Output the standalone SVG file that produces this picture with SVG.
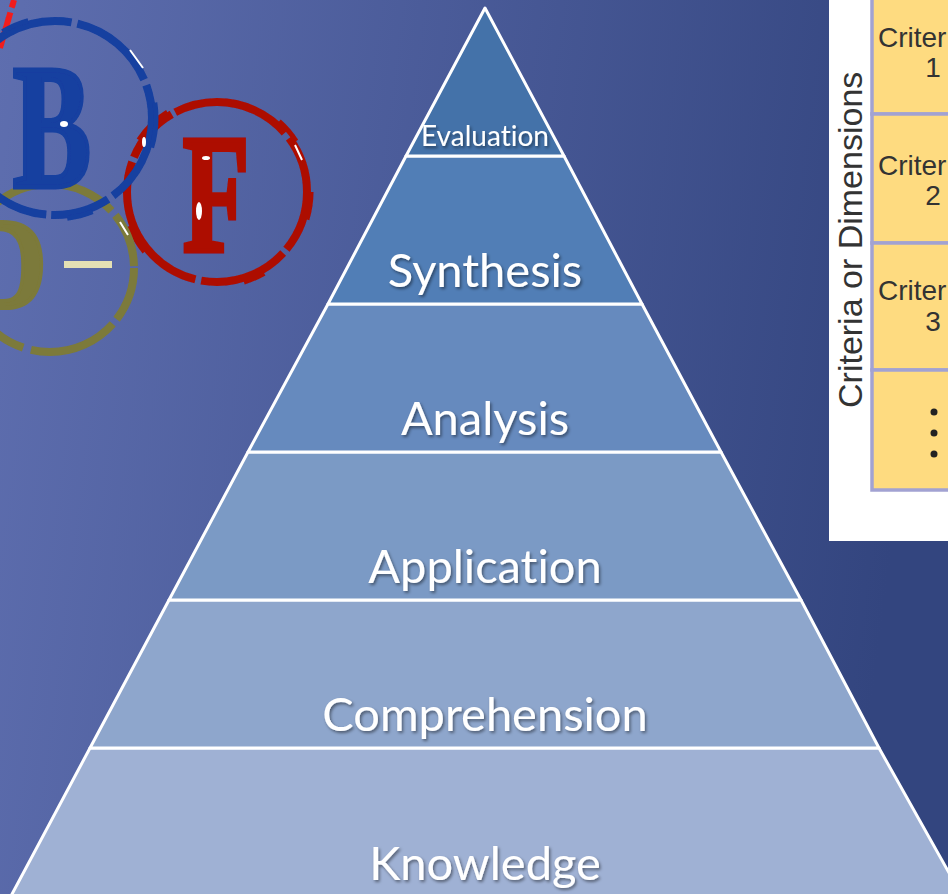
<svg xmlns="http://www.w3.org/2000/svg" width="948" height="894" viewBox="0 0 948 894">
<defs>
<linearGradient id="bg" x1="0" y1="0" x2="1" y2="0.12"><stop offset="0" stop-color="#5e6eaf"/><stop offset="1" stop-color="#33457f"/></linearGradient>
<filter id="sh" x="-10%" y="-20%" width="120%" height="150%"><feDropShadow dx="1.5" dy="2" stdDeviation="1.5" flood-color="#000" flood-opacity="0.45"/></filter>
<filter id="soft" x="-5%" y="-5%" width="110%" height="110%"><feGaussianBlur stdDeviation="0.5"/></filter>
</defs>
<style>
.tier{stroke:#fff;stroke-width:3;stroke-linejoin:round}
.lbl{font-family:Lato,"Liberation Sans",sans-serif;fill:#fff;text-anchor:middle;font-size:47px;font-variant-ligatures:none;filter:url(#sh)}
.crit{font-family:"Liberation Sans",Arial,sans-serif;font-size:28px;fill:#333}
.num{text-anchor:middle}
.cell{fill:#fedb80;stroke:#a2a2d2;stroke-width:3.5}
.ring{fill:none;stroke-width:8}
.burr{fill:none;stroke-width:5}
.logo{font-family:"Liberation Serif",serif;font-weight:bold;text-anchor:middle;stroke-width:4}
.speck{fill:#fff}
</style>
<rect width="948" height="894" fill="url(#bg)"/>

<g id="logo" filter="url(#soft)">
<path d="M14 0L0 48" stroke="#f21c1c" stroke-width="6" fill="none" stroke-dasharray="8 5 40"/>
<circle cx="217" cy="192" r="90" class="ring" stroke="#ad0c00" stroke-dasharray="62 5 90 6 150 5 58 4 120 7"/>
<circle cx="217" cy="192" r="94" class="burr" stroke="#ad0c00" stroke-dasharray="28 70 22 110 30 90 40 120 26 60"/>
<circle cx="50" cy="268" r="84" class="ring" stroke="#7c7a3a" stroke-dasharray="55 6 90 8 130 5 170 6"/>
<circle cx="55" cy="118" r="97" class="ring" stroke="#143fa0" stroke-dasharray="90 6 60 5 110 7 75 5 115 6"/>
<circle cx="55" cy="118" r="101" class="burr" stroke="#143fa0" stroke-dasharray="30 90 26 140 34 100 28 170"/>
<text class="logo" transform="translate(52 187) scale(0.84 1.27)" font-size="140" fill="#143fa0" stroke="#143fa0">B</text>
<text class="logo" transform="translate(216 251) scale(0.84 1.3)" font-size="130" fill="#ad0c00" stroke="#ad0c00">F</text>
<text class="logo" transform="translate(6 308) scale(0.86 1)" font-size="132" fill="#7c7a3a" stroke="#7c7a3a">D</text>
<rect x="64" y="261" width="48" height="7" fill="#e4e0b4"/>
<ellipse class="speck" cx="64" cy="124" rx="4" ry="3"/>
<ellipse class="speck" cx="199" cy="211" rx="3" ry="9"/>
<ellipse class="speck" cx="206" cy="158" rx="4" ry="2"/>
<ellipse class="speck" cx="144" cy="142" rx="2" ry="5"/>
<path d="M130 50L143 68M295 145L302 160M120 222L128 235" stroke="#fff" stroke-width="2" fill="none"/>
</g>

<g id="rubric">
<rect x="829" y="-2" width="122" height="543" fill="#fff"/>
<rect x="872" y="-6" width="80" height="120" class="cell"/>
<rect x="872" y="114" width="80" height="129" class="cell"/>
<rect x="872" y="243" width="80" height="127" class="cell"/>
<rect x="872" y="370" width="80" height="120" class="cell"/>
<text class="crit" x="878" y="47">Criter</text>
<text class="crit num" x="933" y="77">1</text>
<text class="crit" x="878" y="175">Criter</text>
<text class="crit num" x="933" y="205">2</text>
<text class="crit" x="878" y="300">Criter</text>
<text class="crit num" x="933" y="331">3</text>
<circle cx="934" cy="412" r="3.5" fill="#222"/>
<circle cx="934" cy="433" r="3.5" fill="#222"/>
<circle cx="934" cy="454" r="3.5" fill="#222"/>
<text transform="translate(862 408) rotate(-90)" font-family="'Liberation Sans',Arial,sans-serif" font-size="34" fill="#333">Criteria or Dimensions</text>
</g>

<g id="tier-knowledge"><polygon class="tier" points="90,748 879,748 962,896 11,896" fill="#9fb1d4"/><text class="lbl" x="485" y="880">Knowledge</text></g>
<g id="tier-comprehension"><polygon class="tier" points="169,600 801,600 879,748 90,748" fill="#8ea6cc"/><text class="lbl" x="485" y="731">Comprehension</text></g>
<g id="tier-application"><polygon class="tier" points="248,452 721,452 801,600 169,600" fill="#7b9ac5"/><text class="lbl" x="485" y="583">Application</text></g>
<g id="tier-analysis"><polygon class="tier" points="328,304 642,304 721,452 248,452" fill="#668abe"/><text class="lbl" x="485" y="435">Analysis</text></g>
<g id="tier-synthesis"><polygon class="tier" points="406,156 564,156 642,304 328,304" fill="#517eb6"/><text class="lbl" x="485" y="287">Synthesis</text></g>
<g id="tier-evaluation"><polygon class="tier" points="485,8 564,156 406,156" fill="#4472a9"/><text class="lbl" x="485" y="146" style="font-size:28px">Evaluation</text></g>
</svg>
